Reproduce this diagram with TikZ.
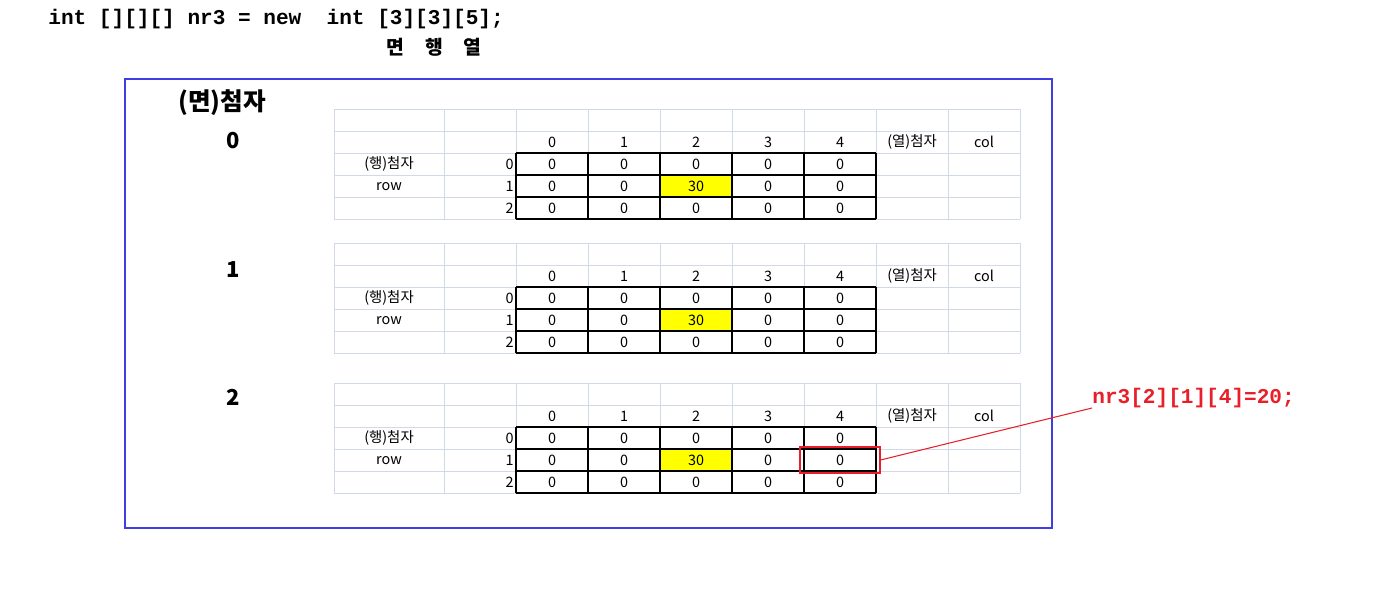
\documentclass[tikz,border=0pt]{standalone}
\usepackage{fontspec}
\setmainfont{Noto Sans CJK KR}
\newfontfamily\codefont{Liberation Mono}
\definecolor{sheetgrey}{RGB}{210,217,230}
\definecolor{frameblue}{RGB}{62,62,226}
\definecolor{markred}{RGB}{232,30,40}
\definecolor{hiyellow}{RGB}{255,255,0}
\tikzset{
  sheetline/.style={draw=sheetgrey, line width=0.55pt},
  arrline/.style={draw=black, line width=0.7pt},
  cell/.style={inner sep=0pt, font=\fontsize{8.2}{9}\selectfont},
  bigidx/.style={inner sep=0pt, font=\fontsize{12.5}{14}\selectfont\bfseries},
  codetext/.style={inner sep=0pt, anchor=west, font=\codefont\bfseries\fontsize{12}{14}\selectfont},
  pickbox/.style={draw=markred, line width=0.6pt, minimum width=1.6cm, minimum height=0.52cm, inner sep=0pt},
  markline/.style={draw=markred, line width=0.6pt}
}
\begin{document}
\begin{tikzpicture}[x=0.02cm, y=-0.02cm]
\useasboundingbox (0,0) rectangle (1396,611);
{\fontsize{8}{9}\selectfont

% Declaration line and its index names
\node[codetext] (decl) at (48,19) {int [][][] nr3 = new\ \ int [3][3][5];};
\node[inner sep=0pt, font=\fontsize{11}{13}\selectfont\bfseries] (dims) at (434,47) {면\hspace{1.06em}행\hspace{1.06em}열};

% Drawing outer frame
\draw[draw=frameblue, line width=0.6pt] (125,79) rectangle (1052,528);
\node[inner sep=0pt, font=\fontsize{14}{16}\selectfont\bfseries] (plane) at (222,103) {(면)첨자};

% Drawing one sheet per plane
\foreach \k/\t/\py in {0/109/141,1/243/270,2/383/397}{
  \node[bigidx] (p\k) at (233,\py) {\k};
  % grey sheet grid
  \foreach \x in {334,444,516,588,660,732,804,876,948,1020}
    \draw[sheetline] (\x,\t) -- (\x,{\t+110});
  \foreach \r in {0,22,44,66,88,110}
    \draw[sheetline] (334,{\t+\r}) -- (1020,{\t+\r});
  % highlighted cell
  \fill[hiyellow] (660,{\t+66}) rectangle (732,{\t+88});
  % black array grid
  \foreach \x in {516,588,660,732,804,876}
    \draw[arrline] (\x,{\t+44}) -- (\x,{\t+110});
  \foreach \r in {44,66,88,110}
    \draw[arrline] (516,{\t+\r}) -- (876,{\t+\r});
  % column indices
  \foreach \c in {0,...,4}
    \node[cell] (h\k-\c) at ({552+72*\c},{\t+33}) {\c};
  \node[cell] (colk\k) at (912,{\t+33}) {(열)첨자};
  \node[cell] (coln\k) at (984,{\t+33}) {col};
  \node[cell] (rowk\k) at (389,{\t+55}) {(행)첨자};
  \node[cell] (rown\k) at (389,{\t+78}) {row};
  % row indices and values
  \foreach \r in {0,1,2}{
    \node[cell, anchor=east] (r\k-\r) at (514,{\t+55+22*\r}) {\r};
    \foreach \c in {0,...,4}
      \node[cell] (c\k-\r-\c) at ({552+72*\c},{\t+55+22*\r}) {\ifnum\r\c=12 30\else 0\fi};
  }
}

% Marking element nr3[2][1][4]
\node[pickbox] (pick) at (c2-1-4) {};
\node[codetext, anchor=south west, text=markred] (assign) at (1092,408) {nr3[2][1][4]=20;};
\draw[markline] (pick.east) -- (assign.south west);
}
\end{tikzpicture}
\end{document}
